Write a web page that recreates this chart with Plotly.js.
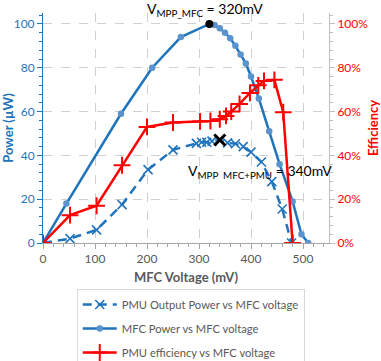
<!DOCTYPE html>
<html>
<head>
<meta charset="utf-8">
<script src="https://cdn.plot.ly/plotly-3.0.1.min.js"></script>
<style>html,body{margin:0;padding:0;background:#fff;}#chart{width:381px;height:361px;}</style>
</head>
<body>
<div id="chart"></div>
<script>
// MFC power curve (µW)
const mfcVoltage = [0, 45, 150, 210, 265, 320, 330, 340, 350, 360, 370, 380, 390, 400, 415, 435, 455, 480, 497, 510];
const mfcPower   = [0, 18, 59, 80, 94, 100, 99.5, 98, 96, 93.5, 90, 86, 82, 76, 66, 51, 36, 19, 4, 0];

// PMU output power (µW)
const pmuVoltage = [0, 52, 103, 152, 202, 250, 295, 305, 315, 325, 340, 355, 370, 385, 400, 420, 440, 460, 478];
const pmuPower   = [0, 2, 6, 17.5, 33.5, 42.5, 45.5, 46, 46, 46.5, 47, 45.7, 45.3, 44, 41.5, 37, 28, 15.5, 0];

// PMU efficiency (%)
const effVoltage = [0, 52, 103, 152, 200, 250, 302, 322, 340, 352, 362, 378, 398, 414, 425, 445, 462, 480];
const effPercent = [0, 12.7, 17, 35.5, 53, 55, 55.5, 55.7, 56.5, 58, 60, 63.5, 68.5, 72, 74, 74.5, 59.7, 0];

// Highlighted maximum power points
const mppMfc = {x: [320], y: [100]};
const mppPmu = {x: [340], y: [47]};

const legendNames = ["PMU Output Power vs MFC voltage", "MFC Power vs MFC voltage", "PMU efficiency vs MFC voltage"];
const xTicks = [0, 100, 200, 300, 400, 500];
const yTicks = [0, 20, 40, 60, 80, 100];

const blue = "#1F74BC";
const blueMarker = "#5B93CF";
const red = "#FF0000";
const gray = "#595959";
const font = "Lato, 'Open Sans', sans-serif";

const traces = [
  {
    x: pmuVoltage, y: pmuPower, name: legendNames[0], type: "scatter", mode: "lines+markers",
    legendgroup: "a",
    line: {color: blue, width: 2.5, dash: "9px,6px"},
    marker: {symbol: "x-thin", size: 9, color: blue, line: {color: blue, width: 1.6}}
  },
  {
    x: mfcVoltage, y: mfcPower, name: legendNames[1], type: "scatter", mode: "lines+markers",
    legendgroup: "b",
    line: {color: blue, width: 2.5},
    marker: {symbol: "circle", size: 6.5, color: blueMarker}
  },
  {
    x: mppMfc.x, y: mppMfc.y, type: "scatter", mode: "markers", showlegend: false,
    marker: {symbol: "circle", size: 8, color: "#000"}
  },
  {
    x: mppPmu.x, y: mppPmu.y, type: "scatter", mode: "markers", showlegend: false,
    marker: {symbol: "x-thin", size: 11, color: "#000", line: {color: "#000", width: 3}}
  },
  {
    x: effVoltage, y: effPercent.map(v => v / 100), name: legendNames[2], type: "scatter", mode: "lines+markers",
    yaxis: "y2", legendgroup: "c",
    line: {color: red, width: 2.5},
    marker: {symbol: "cross-thin", size: 12, color: red, line: {color: red, width: 2}}
  }
];

const layout = {
  width: 381, height: 361,
  margin: {l: 43, r: 52, t: 13, b: 118, autoexpand: false},
  paper_bgcolor: "#fff", plot_bgcolor: "#fff",
  font: {family: font, size: 12, color: gray},
  showlegend: true,
  legend: {
    x: 0.118, xanchor: "left", y: -0.2, yanchor: "top",
    bordercolor: "#D9D9D9", borderwidth: 1,
    font: {family: font, size: 11.2, color: gray},
    tracegroupgap: 5, itemwidth: 34
  },
  xaxis: {
    range: [0, 550], tickvals: xTicks, ticktext: xTicks.map(String),
    showgrid: true, gridcolor: "#D0D0D0", griddash: "dash", gridwidth: 1,
    zeroline: false, showline: true, linecolor: "#A6A6A6", linewidth: 1,
    ticks: "outside", ticklen: 5, tickcolor: "#A6A6A6",
    minor: {dtick: 20, tick0: 0, ticks: "outside", ticklen: 3, tickcolor: "#A6A6A6", showgrid: false},
    tickfont: {family: font, size: 12, color: gray},
    title: {text: "<b>MFC Voltage (mV)</b>", font: {family: font, size: 13, color: gray}, standoff: 7}
  },
  yaxis: {
    range: [0, 105], tickvals: yTicks, ticktext: yTicks.map(String),
    showgrid: true, gridcolor: "#D0D0D0", griddash: "dash", gridwidth: 1,
    zeroline: false, showline: true, linecolor: blue, linewidth: 1,
    ticks: "outside", ticklen: 5, tickcolor: blue,
    minor: {dtick: 4, tick0: 0, ticks: "outside", ticklen: 3, tickcolor: blue, showgrid: false},
    tickfont: {family: font, size: 12, color: blue},
    title: {text: "<b>Power (µW)</b>", font: {family: font, size: 13, color: blue}, standoff: 4}
  },
  yaxis2: {
    overlaying: "y", side: "right", range: [0, 1.05], dtick: 0.2, tick0: 0, tickformat: ".0%",
    showgrid: false, zeroline: false, showline: true, linecolor: "#BFBFBF", linewidth: 1,
    ticks: "outside", ticklen: 5, tickcolor: "#BFBFBF",
    minor: {dtick: 0.04, tick0: 0, ticks: "outside", ticklen: 3, tickcolor: "#BFBFBF", showgrid: false},
    tickfont: {family: font, size: 12, color: red},
    title: {text: "<b>Efficiency</b>", font: {family: font, size: 13, color: red}, standoff: 1}
  },
  annotations: [
    {
      x: 312, y: 1.015, xref: "x", yref: "paper", yanchor: "middle", xanchor: "center", showarrow: false,
      text: "V<sub>MPP_MFC</sub> = 320mV", font: {family: font, size: 14, color: "#000"}
    },
    {
      x: 418, y: 32.5, xref: "x", yref: "y", yanchor: "middle", xanchor: "center", showarrow: false,
      text: "V<sub>MPP  MFC+PMU</sub> = 340mV", font: {family: font, size: 14, color: "#000"}
    }
  ]
};

Plotly.newPlot("chart", traces, layout, {displayModeBar: false, staticPlot: true});
</script>
</body>
</html>
